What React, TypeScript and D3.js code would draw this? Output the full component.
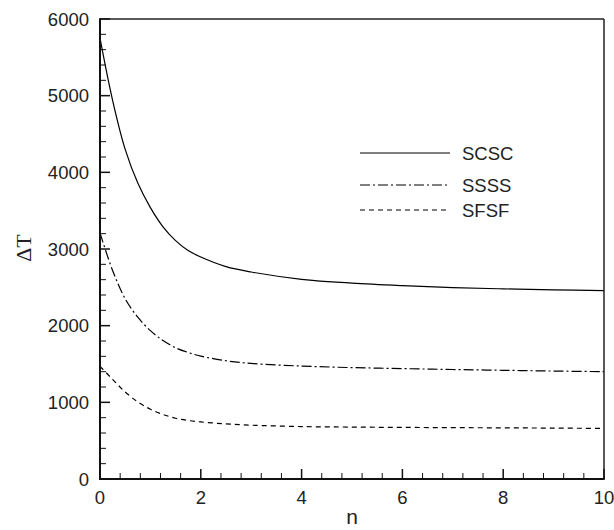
import React from "react";
import * as d3 from "d3";

const nValues = [0, 0.25, 0.5, 0.75, 1, 1.25, 1.5, 1.75, 2, 2.5, 3, 4, 5, 6, 7, 8, 9, 10];
const scsc = [5750, 4940, 4300, 3860, 3540, 3290, 3110, 2980, 2895, 2770, 2700, 2605, 2555, 2522, 2497, 2480, 2467, 2456];
const ssss = [3210, 2720, 2350, 2110, 1935, 1805, 1712, 1650, 1603, 1542, 1507, 1473, 1453, 1440, 1428, 1418, 1408, 1400];
const sfsf = [1470, 1300, 1135, 1005, 910, 842, 792, 763, 744, 719, 702, 684, 677, 673, 670, 667, 664, 660];
const seriesNames = ["SCSC", "SSSS", "SFSF"];
const xTicks = [0, 2, 4, 6, 8, 10];
const yTicks = [0, 1000, 2000, 3000, 4000, 5000, 6000];

const W = 614, H = 530;
const L = 100, R = 604, T = 19, B = 479;

export default function App() {
  const x = d3.scaleLinear().domain([0, 10]).range([L, R]);
  const y = d3.scaleLinear().domain([0, 6000]).range([B, T]);
  const line = d3.line<number>().x((_, i) => x(nValues[i])).y((d) => y(d)).curve(d3.curveCatmullRom.alpha(0.5));
  const dashes = [null, "10,3,2,3", "5,4"];
  const data = [scsc, ssss, sfsf];
  const xMinor = d3.range(0, 10.001, 0.4).filter((v) => Math.abs(v / 2 - Math.round(v / 2)) > 1e-6);
  const yMinor = d3.range(0, 6001, 200).filter((v) => v % 1000 !== 0);
  const font = "'Liberation Sans', Arial, sans-serif";
  const legY = [153, 185, 210];
  return (
    <svg width={W} height={H} style={{ position: "absolute", left: 0, top: 0 }}>
      <rect x={0} y={0} width={W} height={H} fill="#fff" />
      {data.map((d, i) => (
        <path key={i} d={line(d) || ""} fill="none" stroke="#000" strokeWidth={1.2}
          strokeDasharray={dashes[i] || undefined} />
      ))}
      {/* frame */}
      <line x1={L} x2={R} y1={T} y2={T} stroke="#222" strokeWidth={1.5} />
      <line x1={R} x2={R} y1={T} y2={B} stroke="#222" strokeWidth={1.5} />
      <line x1={L} x2={L} y1={T - 0.75} y2={B + 1} stroke="#111" strokeWidth={2} />
      <line x1={L - 1} x2={R + 0.75} y1={B} y2={B} stroke="#111" strokeWidth={2} />
      {/* y ticks */}
      {yTicks.map((v) => (
        <g key={v}>
          <line x1={L} x2={L + 10} y1={y(v)} y2={y(v)} stroke="#111" strokeWidth={1.5} />
          <text x={L - 11} y={y(v)} dy="0.36em" textAnchor="end" fontFamily={font} fontSize={18.5} fill="#222">{v}</text>
        </g>
      ))}
      {yMinor.map((v) => (
        <line key={v} x1={L} x2={L + 6} y1={y(v)} y2={y(v)} stroke="#111" strokeWidth={1} />
      ))}
      {/* x ticks */}
      {xTicks.map((v) => (
        <g key={v}>
          <line x1={x(v)} x2={x(v)} y1={B} y2={B - 10} stroke="#111" strokeWidth={1.5} />
          <text x={x(v)} y={504} textAnchor="middle" fontFamily={font} fontSize={18.5} fill="#222">{v}</text>
        </g>
      ))}
      {xMinor.map((v) => (
        <line key={v} x1={x(v)} x2={x(v)} y1={B} y2={B - 6} stroke="#111" strokeWidth={1} />
      ))}
      {/* axis labels */}
      <text x={352} y={524} textAnchor="middle" fontFamily={font} fontSize={21} fill="#222">n</text>
      <text transform="translate(31,248) rotate(-90)" textAnchor="middle" fontFamily="'Liberation Serif', 'Times New Roman', serif" fontSize={22} fill="#222">ΔT</text>
      {/* legend */}
      {seriesNames.map((s, i) => (
        <g key={s}>
          <line x1={360} x2={450} y1={legY[i]} y2={legY[i]} stroke="#000" strokeWidth={1.2}
            strokeDasharray={dashes[i] || undefined} />
          <text x={462} y={legY[i]} dy="0.36em" fontFamily={font} fontSize={18.5} fill="#222">{s}</text>
        </g>
      ))}
    </svg>
  );
}
